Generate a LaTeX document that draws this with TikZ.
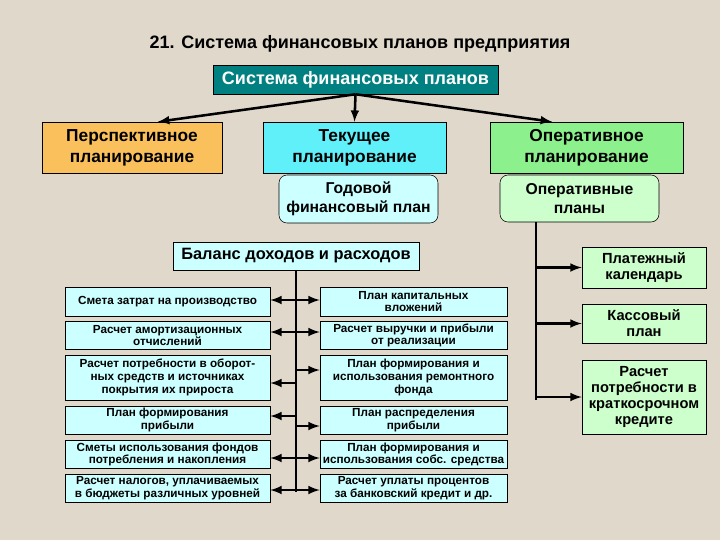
\documentclass[tikz,border=0pt]{standalone}
\usepackage{fontspec}
\setmainfont{Liberation Sans}
\usepackage{tikz}
\usetikzlibrary{arrows}
\definecolor{paper}{RGB}{224,216,202}
\definecolor{teal}{RGB}{0,128,128}
\definecolor{orange}{RGB}{250,192,92}
\definecolor{cyan}{RGB}{96,240,250}
\definecolor{green}{RGB}{140,240,140}
\definecolor{lightcyan}{RGB}{204,255,255}
\definecolor{lightgreen}{RGB}{204,255,204}
\tikzset{%
  plan/.style={draw, rectangle, align=center, inner sep=0pt, font=\bfseries},
  head/.style={plan, minimum height=38.25pt, font=\fontsize{13}{16}\selectfont\bfseries},% first level
  sub/.style={plan, rounded corners=6pt, minimum width=119.25pt, font=\fontsize{11.8}{14}\selectfont\bfseries},% second level
  small/.style={plan, fill=lightcyan, minimum height=21pt, font=\fontsize{8.8}{9.5}\selectfont\bfseries},% balance items
  oper/.style={plan, fill=lightgreen, minimum width=93pt, font=\fontsize{11}{12}\selectfont\bfseries},% operative plans
  link/.style={line width=1.9pt},
  arr/.style={link, -latex},
  arrr/.style={link, latex-latex}
}
\begin{document}
\begin{tikzpicture}[x=0.75pt, y=-0.75pt]
\useasboundingbox (0,0) rectangle (720,540);
\fill[paper] (0,0) rectangle (720,540);

\node[font=\fontsize{13.5}{15}\selectfont\bfseries] (title) at (360,44) {21. Система финансовых планов предприятия};
\node[plan, fill=teal, text=white, minimum width=213.75pt, minimum height=21.75pt,
  font=\fontsize{13.5}{15}\selectfont\bfseries] (sys) at (355.5,79.5) {Система финансовых планов};

\node[head, fill=orange, minimum width=135pt] (per) at (132,147.5) {Перспективное\\планирование};
\node[head, fill=cyan, minimum width=137.25pt] (tek) at (354.5,147.5) {Текущее\\планирование};
\node[head, fill=green, minimum width=144.75pt] (opr) at (586.5,147.5) {Оперативное\\планирование};

\node[sub, fill=lightcyan, minimum height=36pt] (god) at (358.5,199) {Годовой\\финансовый план};
\node[sub, fill=lightgreen, minimum height=35.25pt] (opl) at (579.5,198.5) {Оперативные\\планы};

\draw[arr] (sys.south) -- ([xshift=19.5pt]per.north);
\draw[arr] (sys.south) -- (tek.north);
\draw[arr] (sys.south) -- ([xshift=-25.9pt]opr.north);

% balance of income and expenses
\node[plan, fill=lightcyan, minimum width=184.5pt, minimum height=21pt,
  font=\fontsize{12.3}{13}\selectfont\bfseries] (bal) at (296,256) {Баланс доходов и расходов};

\node[small, minimum width=153.75pt, minimum height=21.75pt] (l1) at (167.5,301.5) {Смета затрат на производство};
\node[small, minimum width=153.75pt] (l2) at (167.5,335.5) {Расчет амортизационных\\отчислений};
\node[small, minimum width=153.75pt, minimum height=33.75pt] (l3) at (167.5,377.5) {Расчет потребности в оборот-\\ных средств и источниках\\покрытия их прироста};
\node[small, minimum width=153.75pt] (l4) at (167.5,420) {План формирования\\прибыли};
\node[small, minimum width=153.75pt] (l5) at (167.5,454.5) {Сметы использования фондов\\потребления и накопления};
\node[small, minimum width=153.75pt] (l6) at (167.5,488) {Расчет налогов, уплачиваемых\\в бюджеты различных уровней};

\node[small, minimum width=140.25pt, minimum height=21.75pt] (r1) at (413.5,301.5) {План капитальных\\вложений};
\node[small, minimum width=140.25pt] (r2) at (413.5,335.5) {Расчет выручки и прибыли\\от реализации};
\node[small, minimum width=140.25pt, minimum height=33.75pt] (r3) at (413.5,377.5) {План формирования и\\использования ремонтного\\фонда};
\node[small, minimum width=140.25pt] (r4) at (413.5,420) {План  распределения\\прибыли};
\node[small, minimum width=140.25pt] (r5) at (413.5,454.5) {План формирования и\\использования собс. средства};
\node[small, minimum width=140.25pt] (r6) at (413.5,488) {Расчет уплаты процентов\\за банковский кредит и др.};

\coordinate (sb) at (296,492);
\coordinate (s1) at (296,300);
\coordinate (s2) at (296,332);
\coordinate (s3) at (296,370);
\coordinate (s3b) at (296,383);
\coordinate (s4) at (296,416);
\coordinate (s4b) at (296,426);
\coordinate (s5) at (296,458);
\coordinate (s6) at (296,490);
\draw[link] (bal.south) -- (sb);
\draw[arrr] (l1.east |- s1) -- (r1.west |- s1);
\draw[arrr] (l2.east |- s2) -- (r2.west |- s2);
\draw[arr] (s3) -- (r3.west |- s3);
\draw[arr] (s3b) -- (l3.east |- s3b);
\draw[arr] (s4) -- (l4.east |- s4);
\draw[arr] (s4b) -- (r4.west |- s4b);
\draw[arrr] (l5.east |- s5) -- (r5.west |- s5);
\draw[arrr] (l6.east |- s6) -- (r6.west |- s6);

% operative plans
\node[oper, minimum height=30.75pt] (k1) at (644,267.5) {Платежный\\календарь};
\node[oper, minimum height=29.25pt] (k2) at (644,323.5) {Кассовый\\план};
\node[oper, minimum height=55.5pt] (k3) at (644,397) {Расчет\\потребности в\\краткосрочном\\кредите};

\coordinate (rx) at (536,400);
\draw[link] (opl.south -| rx) -- (rx);
\draw[arr] (k1.west -| rx) -- (k1.west);
\draw[arr] (k2.west -| rx) -- (k2.west);
\draw[arr] (k3.west -| rx) -- (k3.west);
\end{tikzpicture}
\end{document}
